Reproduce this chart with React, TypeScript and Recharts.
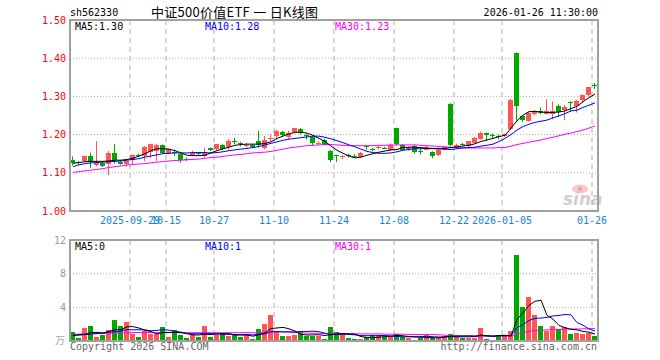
import { ComposedChart, Bar, Line, XAxis, YAxis, CartesianGrid } from "recharts";

const DATES = [
  "2025-09-15", "2025-09-16", "2025-09-17", "2025-09-18", "2025-09-19",
  "2025-09-22", "2025-09-23", "2025-09-24", "2025-09-25", "2025-09-26",
  "2025-09-29", "2025-09-30", "2025-10-09", "2025-10-10", "2025-10-13",
  "2025-10-14", "2025-10-15", "2025-10-16", "2025-10-17", "2025-10-20",
  "2025-10-21", "2025-10-22", "2025-10-23", "2025-10-24", "2025-10-27",
  "2025-10-28", "2025-10-29", "2025-10-30", "2025-10-31", "2025-11-03",
  "2025-11-04", "2025-11-05", "2025-11-06", "2025-11-07", "2025-11-10",
  "2025-11-11", "2025-11-12", "2025-11-13", "2025-11-14", "2025-11-17",
  "2025-11-18", "2025-11-19", "2025-11-20", "2025-11-21", "2025-11-24",
  "2025-11-25", "2025-11-26", "2025-11-27", "2025-11-28", "2025-12-01",
  "2025-12-02", "2025-12-03", "2025-12-04", "2025-12-05", "2025-12-08",
  "2025-12-09", "2025-12-10", "2025-12-11", "2025-12-12", "2025-12-15",
  "2025-12-16", "2025-12-17", "2025-12-18", "2025-12-19", "2025-12-22",
  "2025-12-23", "2025-12-24", "2025-12-25", "2025-12-26", "2025-12-29",
  "2025-12-30", "2025-12-31", "2026-01-05", "2026-01-06", "2026-01-07",
  "2026-01-08", "2026-01-09", "2026-01-12", "2026-01-13", "2026-01-14",
  "2026-01-15", "2026-01-16", "2026-01-19", "2026-01-20", "2026-01-21",
  "2026-01-22", "2026-01-23", "2026-01-26",
];

const OPEN = [
  1.133, 1.128, 1.131, 1.143, 1.120, 1.126, 1.124, 1.153, 1.129, 1.123,
  1.133, 1.147, 1.144, 1.153, 1.158, 1.173, 1.151, 1.154, 1.149, 1.137,
  1.148, 1.151, 1.144, 1.165, 1.161, 1.173, 1.167, 1.182, 1.178, 1.171,
  1.173, 1.183, 1.166, 1.190, 1.196, 1.207, 1.195, 1.205, 1.214, 1.199,
  1.195, 1.176, 1.187, 1.158, 1.146, 1.141, 1.147, 1.145, 1.141, 1.170,
  1.162, 1.164, 1.166, 1.161, 1.217, 1.173, 1.159, 1.170, 1.158, 1.161,
  1.154, 1.147, 1.161, 1.281, 1.166, 1.175, 1.170, 1.179, 1.190, 1.203,
  1.198, 1.196, 1.196, 1.216, 1.413, 1.249, 1.236, 1.254, 1.262, 1.254,
  1.254, 1.274, 1.266, 1.286, 1.277, 1.290, 1.303, 1.330,
];
const HIGH = [
  1.143, 1.131, 1.145, 1.153, 1.183, 1.128, 1.157, 1.175, 1.131, 1.132,
  1.148, 1.150, 1.170, 1.176, 1.176, 1.174, 1.163, 1.161, 1.150, 1.140,
  1.158, 1.153, 1.166, 1.166, 1.176, 1.175, 1.188, 1.191, 1.181, 1.178,
  1.176, 1.210, 1.196, 1.200, 1.213, 1.210, 1.210, 1.217, 1.217, 1.203,
  1.196, 1.183, 1.189, 1.160, 1.147, 1.146, 1.150, 1.149, 1.155, 1.172,
  1.165, 1.171, 1.168, 1.177, 1.218, 1.175, 1.169, 1.172, 1.162, 1.170,
  1.156, 1.166, 1.170, 1.282, 1.176, 1.178, 1.183, 1.194, 1.208, 1.205,
  1.203, 1.200, 1.203, 1.293, 1.415, 1.250, 1.260, 1.264, 1.271, 1.293,
  1.287, 1.279, 1.277, 1.287, 1.290, 1.305, 1.325, 1.335,
];
const LOW = [
  1.119, 1.122, 1.129, 1.113, 1.117, 1.115, 1.094, 1.124, 1.121, 1.117,
  1.122, 1.141, 1.131, 1.139, 1.131, 1.150, 1.149, 1.144, 1.127, 1.131,
  1.147, 1.147, 1.140, 1.157, 1.158, 1.160, 1.161, 1.175, 1.169, 1.167,
  1.165, 1.166, 1.161, 1.183, 1.187, 1.194, 1.189, 1.203, 1.200, 1.187,
  1.172, 1.173, 1.172, 1.128, 1.128, 1.136, 1.140, 1.140, 1.139, 1.160,
  1.156, 1.161, 1.162, 1.158, 1.172, 1.157, 1.157, 1.150, 1.148, 1.159,
  1.138, 1.144, 1.159, 1.170, 1.163, 1.170, 1.168, 1.177, 1.187, 1.183,
  1.189, 1.188, 1.194, 1.212, 1.236, 1.234, 1.234, 1.250, 1.253, 1.253,
  1.240, 1.246, 1.238, 1.260, 1.258, 1.284, 1.300, 1.319,
];
const CLOSE = [
  1.125, 1.125, 1.143, 1.129, 1.126, 1.118, 1.153, 1.135, 1.125, 1.131,
  1.146, 1.145, 1.168, 1.175, 1.173, 1.152, 1.161, 1.151, 1.133, 1.135,
  1.153, 1.150, 1.153, 1.159, 1.175, 1.163, 1.184, 1.180, 1.176, 1.174,
  1.167, 1.172, 1.187, 1.192, 1.210, 1.198, 1.205, 1.216, 1.204, 1.197,
  1.179, 1.178, 1.173, 1.135, 1.144, 1.143, 1.145, 1.143, 1.152, 1.168,
  1.160, 1.167, 1.164, 1.173, 1.175, 1.159, 1.167, 1.153, 1.156, 1.168,
  1.144, 1.160, 1.168, 1.173, 1.173, 1.174, 1.182, 1.192, 1.205, 1.197,
  1.196, 1.194, 1.201, 1.291, 1.273, 1.238, 1.256, 1.262, 1.258, 1.262,
  1.262, 1.257, 1.273, 1.283, 1.289, 1.304, 1.325, 1.327,
];

const MA5 = [
  1.125, 1.127, 1.129, 1.130, 1.130, 1.130, 1.131, 1.133, 1.133, 1.135,
  1.138, 1.144, 1.150, 1.158, 1.163, 1.163, 1.162, 1.158, 1.152, 1.146,
  1.145, 1.145, 1.146, 1.152, 1.158, 1.163, 1.167, 1.172, 1.174, 1.175,
  1.175, 1.175, 1.177, 1.181, 1.190, 1.196, 1.202, 1.206, 1.206, 1.204,
  1.198, 1.190, 1.182, 1.170, 1.159, 1.151, 1.144, 1.139, 1.141, 1.146,
  1.150, 1.154, 1.157, 1.160, 1.161, 1.166, 1.167, 1.167, 1.166, 1.164,
  1.163, 1.163, 1.164, 1.166, 1.168, 1.170, 1.172, 1.176, 1.182, 1.186,
  1.190, 1.195, 1.198, 1.217, 1.236, 1.251, 1.260, 1.261, 1.259, 1.258,
  1.258, 1.259, 1.262, 1.268, 1.274, 1.286, 1.297, 1.306,
];
const MA10 = [
  1.116, 1.121, 1.124, 1.126, 1.127, 1.128, 1.129, 1.130, 1.131, 1.133,
  1.135, 1.137, 1.141, 1.144, 1.147, 1.150, 1.151, 1.152, 1.152, 1.152,
  1.153, 1.153, 1.153, 1.152, 1.153, 1.155, 1.158, 1.160, 1.162, 1.164,
  1.166, 1.169, 1.173, 1.177, 1.181, 1.185, 1.188, 1.190, 1.192, 1.194,
  1.196, 1.196, 1.193, 1.189, 1.184, 1.179, 1.173, 1.168, 1.162, 1.156,
  1.153, 1.151, 1.151, 1.152, 1.155, 1.159, 1.161, 1.163, 1.163, 1.164,
  1.164, 1.163, 1.162, 1.161, 1.163, 1.165, 1.166, 1.167, 1.170, 1.172,
  1.175, 1.182, 1.190, 1.200, 1.212, 1.221, 1.227, 1.232, 1.235, 1.238,
  1.244, 1.249, 1.255, 1.262, 1.264, 1.271, 1.277, 1.283,
];
const MA30 = [
  1.101, 1.103, 1.105, 1.107, 1.109, 1.111, 1.114, 1.116, 1.118, 1.120,
  1.122, 1.123, 1.124, 1.126, 1.128, 1.129, 1.131, 1.132, 1.133, 1.134,
  1.135, 1.136, 1.138, 1.140, 1.141, 1.143, 1.145, 1.147, 1.148, 1.150,
  1.152, 1.153, 1.154, 1.156, 1.159, 1.162, 1.165, 1.167, 1.169, 1.171,
  1.172, 1.173, 1.174, 1.174, 1.173, 1.172, 1.171, 1.171, 1.171, 1.171,
  1.171, 1.172, 1.172, 1.173, 1.173, 1.173, 1.173, 1.173, 1.172, 1.171,
  1.170, 1.169, 1.168, 1.167, 1.166, 1.165, 1.165, 1.165, 1.165, 1.165,
  1.165, 1.166, 1.166, 1.170, 1.174, 1.177, 1.180, 1.183, 1.186, 1.190,
  1.193, 1.197, 1.201, 1.204, 1.208, 1.212, 1.217, 1.223,
];

// volume, in 万手
const VOL = [
  1.04, 0.32, 1.52, 1.76, 0.48, 0.68, 1.28, 2.48, 1.76, 2.24,
  0.80, 0.44, 1.20, 0.88, 0.88, 1.64, 0.44, 1.32, 0.68, 0.36,
  0.80, 0.44, 1.76, 0.44, 0.72, 0.96, 0.56, 0.88, 0.48, 0.68,
  0.24, 1.40, 2.00, 3.08, 1.04, 0.56, 0.56, 0.68, 1.12, 0.64,
  0.64, 0.64, 0.24, 1.62, 1.04, 0.88, 0.32, 0.20, 0.20, 0.48,
  0.72, 0.72, 0.48, 0.56, 0.88, 0.48, 0.32, 0.16, 0.40, 0.76,
  0.32, 0.32, 0.60, 0.88, 0.76, 0.40, 0.40, 0.40, 1.60, 0.28,
  0.16, 0.76, 0.60, 1.16, 10.16, 4.00, 5.24, 3.04, 1.76, 1.20,
  1.76, 1.48, 1.68, 0.80, 0.92, 0.80, 1.00, 0.64,
];
const VMA5 = [
  0.68, 0.72, 0.80, 1.00, 1.02, 0.95, 1.14, 1.34, 1.34, 1.69,
  1.71, 1.54, 1.29, 1.11, 0.84, 1.01, 1.01, 1.03, 0.99, 0.89,
  0.72, 0.72, 0.81, 0.76, 0.83, 0.86, 0.89, 0.71, 0.72, 0.71,
  0.57, 0.74, 0.96, 1.48, 1.55, 1.62, 1.45, 1.18, 0.79, 0.71,
  0.73, 0.74, 0.66, 0.76, 0.84, 0.88, 0.82, 0.81, 0.53, 0.42,
  0.38, 0.46, 0.52, 0.59, 0.67, 0.62, 0.54, 0.48, 0.45, 0.42,
  0.39, 0.39, 0.48, 0.58, 0.58, 0.59, 0.61, 0.57, 0.71, 0.62,
  0.57, 0.64, 0.68, 0.59, 2.57, 3.34, 4.23, 4.72, 4.84, 3.05,
  2.60, 1.85, 1.58, 1.38, 1.33, 1.14, 1.04, 0.83,
];
const VMA10 = [
  0.68, 0.72, 0.76, 0.82, 0.88, 0.95, 1.05, 1.10, 1.20, 1.36,
  1.33, 1.34, 1.31, 1.22, 1.26, 1.36, 1.28, 1.16, 1.05, 0.86,
  0.86, 0.86, 0.92, 0.88, 0.86, 0.79, 0.80, 0.76, 0.74, 0.77,
  0.72, 0.81, 0.84, 1.10, 1.13, 1.09, 1.09, 1.07, 1.14, 1.13,
  1.17, 1.10, 0.92, 0.77, 0.77, 0.81, 0.78, 0.73, 0.64, 0.63,
  0.63, 0.64, 0.67, 0.56, 0.54, 0.50, 0.50, 0.50, 0.52, 0.55,
  0.51, 0.47, 0.48, 0.51, 0.50, 0.49, 0.50, 0.52, 0.64, 0.60,
  0.58, 0.62, 0.62, 0.65, 1.59, 1.95, 2.44, 2.70, 2.72, 2.81,
  2.97, 3.04, 3.15, 3.11, 2.19, 1.87, 1.44, 1.20,
];
const VMA30 = [
  0.80, 0.82, 0.84, 0.86, 0.88, 0.90, 0.92, 0.94, 0.96, 0.98,
  1.00, 1.00, 1.00, 1.00, 1.00, 1.00, 1.00, 1.00, 1.00, 0.99,
  0.98, 0.98, 0.98, 0.98, 0.98, 0.98, 0.98, 0.99, 0.99, 1.00,
  0.97, 1.01, 1.02, 1.07, 1.09, 1.08, 1.06, 1.00, 0.98, 0.92,
  0.92, 0.92, 0.89, 0.92, 0.92, 0.90, 0.89, 0.86, 0.84, 0.84,
  0.84, 0.85, 0.81, 0.81, 0.82, 0.80, 0.79, 0.77, 0.77, 0.77,
  0.77, 0.74, 0.69, 0.62, 0.61, 0.60, 0.60, 0.59, 0.60, 0.59,
  0.57, 0.58, 0.59, 0.57, 0.88, 0.98, 1.15, 1.24, 1.29, 1.32,
  1.35, 1.38, 1.42, 1.43, 1.43, 1.44, 1.46, 1.48,
];

const TICK_DATES = [
  "2025-09-29", "2025-10-15", "2025-10-27", "2025-11-10", "2025-11-24",
  "2025-12-08", "2025-12-22", "2026-01-05", "2026-01-26",
];
const TICK_LABELS = [
  "2025-09-29", "10-15", "10-27", "11-10", "11-24",
  "12-08", "12-22", "2026-01-05", "01-26",
];
const PRICE_TICKS = [1.0, 1.1, 1.2, 1.3, 1.4, 1.5];
const VOL_TICKS = [4, 8, 12];

const RED = "#ff5555";
const GREEN = "#00a800";
const MONO = "'DejaVu Sans Mono', monospace";
const CJK = "'Noto Sans CJK SC', sans-serif";
const GRID = "#b0b0b0";
const FRAME = "#a0a0a0";

const rows = DATES.map((date, i) => ({
  date,
  x: i + 0.5,
  open: OPEN[i],
  high: HIGH[i],
  low: LOW[i],
  close: CLOSE[i],
  range: [LOW[i], HIGH[i]],
  ma5: MA5[i],
  ma10: MA10[i],
  ma30: MA30[i],
  vol: VOL[i],
  vma5: VMA5[i],
  vma10: VMA10[i],
  vma30: VMA30[i],
}));

// ticks sit on the left edge of the day's slot
const TICK_POS = TICK_DATES.map((d) => DATES.indexOf(d));

function Candle(props: any) {
  const { x, y, width, height, payload } = props;
  if (!payload) return null;
  const { open, close, high, low } = payload;
  const color = close >= open ? RED : GREEN;
  const left = Math.floor(x + width / 2 - 2.5);
  const k = high > low ? height / (high - low) : 0;
  const yo = y + (high - open) * k;
  const yc = y + (high - close) * k;
  const top = Math.round(Math.min(yo, yc));
  const h = Math.max(1, Math.round(Math.abs(yo - yc)));
  return (
    <g>
      <line x1={left + 2.5} x2={left + 2.5} y1={y} y2={y + height} stroke={color} strokeWidth={1} />
      <rect x={left} y={top} width={5} height={h} fill={color} />
    </g>
  );
}

function VolBar(props: any) {
  const { x, y, width, height, payload } = props;
  if (!payload) return null;
  const color = payload.close >= payload.open ? RED : GREEN;
  const left = Math.floor(x + width / 2 - 2.5);
  return <rect x={left} y={Math.round(y)} width={5} height={Math.max(0, Math.round(height))} fill={color} />;
}

const maLine = (key: string, color: string) => (
  <Line
    key={key}
    type="linear"
    dataKey={key}
    stroke={color}
    strokeWidth={1}
    dot={false}
    activeDot={false}
    isAnimationActive={false}
  />
);

export default function App() {
  return (
    <div style={{ position: "absolute", left: 0, top: 0, width: 660, height: 360, background: "#fff" }}>
      <div style={{ position: "absolute", left: 0, top: 0 }}>
        <ComposedChart width={660} height={230} data={rows} margin={{ top: 20, right: 62, bottom: 4, left: 0 }}>
          <CartesianGrid horizontal={true} vertical={false} stroke={GRID} strokeDasharray="1 2" />
          <CartesianGrid horizontal={false} vertical={true} stroke={GRID} strokeDasharray="5 4" />
          <XAxis
            type="number"
            dataKey="x"
            domain={[0, 88]}
            ticks={TICK_POS}
            interval={0}
            tickFormatter={(v: number) => TICK_LABELS[TICK_POS.indexOf(v)] ?? ""}
            tick={{ fill: "#1482dc", fontSize: 10, fontFamily: MONO }}
            tickLine={false}
            axisLine={false}
            tickSize={0}
            tickMargin={6}
            height={15}
          />
          <YAxis
            type="number"
            domain={[1.0, 1.5]}
            ticks={PRICE_TICKS}
            interval={0}
            tickFormatter={(v: number) => v.toFixed(2)}
            tick={{ fill: "#ff0000", fontSize: 10, fontFamily: MONO }}
            tickLine={false}
            axisLine={false}
            tickSize={0}
            tickMargin={4}
            width={70}
            allowDataOverflow
          />
          <Bar dataKey="range" barSize={5} isAnimationActive={false} shape={(p: any) => <Candle {...p} />} />
          {maLine("ma30", "#ff00ff")}
          {maLine("ma10", "#0000ff")}
          {maLine("ma5", "#000000")}
        </ComposedChart>
      </div>
      <div style={{ position: "absolute", left: 0, top: 230 }}>
        <ComposedChart width={660} height={130} data={rows} margin={{ top: 10, right: 62, bottom: 19, left: 0 }}>
          <CartesianGrid horizontal={true} vertical={false} stroke={GRID} strokeDasharray="1 2" />
          <CartesianGrid horizontal={false} vertical={true} stroke={GRID} strokeDasharray="5 4" />
          <XAxis type="number" dataKey="x" domain={[0, 88]} ticks={TICK_POS} interval={0} hide />
          <YAxis
            type="number"
            domain={[0, 12]}
            ticks={VOL_TICKS}
            interval={0}
            tick={{ fill: "#999999", fontSize: 10, fontFamily: MONO }}
            tickLine={false}
            axisLine={false}
            tickSize={0}
            tickMargin={4}
            width={70}
            allowDataOverflow
          />
          <Bar dataKey="vol" barSize={5} isAnimationActive={false} shape={(p: any) => <VolBar {...p} />} />
          {maLine("vma30", "#ff00ff")}
          {maLine("vma10", "#0000ff")}
          {maLine("vma5", "#000000")}
        </ComposedChart>
      </div>
      <svg
        width={660}
        height={360}
        style={{ position: "absolute", left: 0, top: 0, pointerEvents: "none" }}
        fontFamily={MONO}
        fontSize={10}
      >
        <text x={70} y={16} fill="#000">sh562330</text>
        <text x={151} y={17} fill="#000" fontSize={13} fontFamily={CJK} textLength={167} lengthAdjust="spacing">
          中证500价值ETF 一 日K线图
        </text>
        <text x={598} y={16} fill="#000" textAnchor="end">2026-01-26 11:30:00</text>

        <text x={75} y={30} fill="#000">MA5:1.30</text>
        <text x={205} y={30} fill="#0000ff">MA10:1.28</text>
        <text x={335} y={30} fill="#ff00ff">MA30:1.23</text>

        <text x={75} y={250} fill="#000">MA5:0</text>
        <text x={205} y={250} fill="#0000ff">MA10:1</text>
        <text x={335} y={250} fill="#ff00ff">MA30:1</text>

        <text x={65} y={344} fill="#aaa" textAnchor="end" fontFamily={CJK}>万</text>
        <text x={70} y={350} fill="#666">Copyright 2026 SINA.COM</text>
        <text x={597} y={350} fill="#666" textAnchor="end">http://finance.sina.com.cn</text>

        <g opacity={0.55}>
          <ellipse cx={580} cy={189} rx={8} ry={4.5} fill="#f3a0a0" />
          <circle cx={580} cy={189} r={2.2} fill="#e06060" />
          <text x={563} y={205} fill="#a8a8a8" fontSize={17} fontWeight="bold" fontStyle="italic" fontFamily="'DejaVu Sans', sans-serif">
            sina
          </text>
        </g>

        <rect x={70} y={20} width={528} height={191} fill="none" stroke={FRAME} strokeWidth={2} />
        <rect x={70} y={240} width={528} height={101} fill="none" stroke={FRAME} strokeWidth={2} />
      </svg>
    </div>
  );
}
